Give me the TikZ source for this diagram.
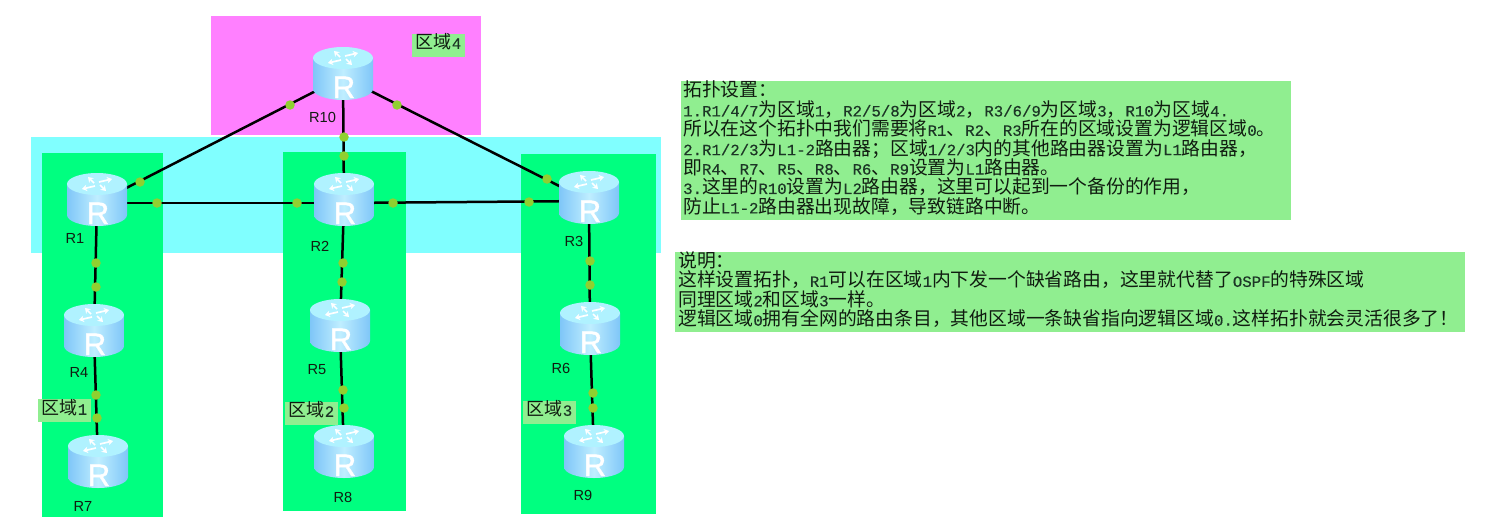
\documentclass[tikz,border=0pt]{standalone}
\usepackage{fontspec}
\setmainfont{Noto Sans CJK SC}
\newfontfamily\latfont[FakeBold=0.4]{Liberation Mono}
\newfontfamily\labfont{Liberation Sans}
\newfontfamily\rfont[FakeBold=1.2]{Liberation Sans}
\usetikzlibrary{arrows.meta}
\definecolor{numcol}{HTML}{1C3626}
\definecolor{txtcol}{HTML}{101C10}
\definecolor{areaM}{HTML}{FF80FF}
\definecolor{areaC}{HTML}{80FFFF}
\definecolor{areaG}{HTML}{00FF80}
\definecolor{noteG}{HTML}{90EE90}
\definecolor{dotG}{HTML}{90D030}
\definecolor{rTop}{HTML}{B0F2FF}
\definecolor{rEdge}{HTML}{7FC6F8}
\definecolor{rMid}{HTML}{BFEEFF}
\newcommand{\M}[1]{{\latfont\fontsize{15.7}{19.4}\selectfont\color{numcol}#1}}
\pgfdeclarelayer{links}
\pgfsetlayers{links,main}
\tikzset{
  x=1pt,y=-1pt,
  area/.style={draw=none,inner sep=0,outer sep=0,anchor=north west},
  notebox/.style={area,fill=noteG},
  routerbox/.style={draw=none,inner sep=0,minimum width=60,minimum height=53},
  rletter/.style={text=white,inner sep=0,text height=21,text depth=0,font=\rfont\fontsize{31}{31}\selectfont},
  rlabel/.style={text=txtcol,inner sep=0,font=\labfont\fontsize{14.6}{16}\selectfont},
  link/.style={draw=black,line width=2.5},
  dotmark/.style={circle,fill=dotG,draw=none,inner sep=0,minimum size=9.5},
  notetext/.style={anchor=north west,inner sep=0,align=left,text=txtcol,font=\fontsize{18.8}{19.4}\selectfont},
  arealabel/.style={area,fill=noteG,minimum width=53,minimum height=23},
  areatext/.style={inner sep=0,text=txtcol,font=\fontsize{18}{18}\selectfont},
  rarrow/.style={draw=white,line width=1.7,-{Stealth[length=5,width=6.5]}}
}
\newcommand{\router}[3]{%
  \node[routerbox] (#1) at (#2,#3) {};
  \begin{scope}[shift={(#1.center)}]
    \shade[left color=rEdge,right color=rEdge,middle color=rMid]
      (-30,-19) -- (30,-19) -- (30,12) .. controls (30,18) and (16.5,23) .. (0,23)
      .. controls (-16.5,23) and (-30,18) .. (-30,12) -- cycle;
    \fill[rTop] (-30,-19) .. controls (-30,-25) and (-16.5,-30) .. (0,-30)
      .. controls (16.5,-30) and (30,-25) .. (30,-19)
      .. controls (30,-13) and (16.5,-8) .. (0,-8)
      .. controls (-16.5,-8) and (-30,-13) .. (-30,-19) -- cycle;
    \draw[rarrow] (-3,-20) -- (-9,-26);
    \draw[rarrow] (2,-21) -- (15,-24);
    \draw[rarrow] (3,-18) -- (9,-12);
    \draw[rarrow] (-2,-17) -- (-15,-14);
    \node[rletter] (#1-R) at (1,10.5) {R};
  \end{scope}
}
\begin{document}
\begin{tikzpicture}
\useasboundingbox (0,0) rectangle (1485,522);
% areas (drawn on the lowest layer)
\begin{pgfonlayer}{links}
\node[area,fill=areaM,minimum width=270,minimum height=119] (aM) at (211,16) {};
\node[area,fill=areaC,minimum width=630,minimum height=116] (aC) at (31,137) {};
\node[area,fill=areaG,minimum width=121,minimum height=364] (aG1) at (42,153) {};
\node[area,fill=areaG,minimum width=123,minimum height=359] (aG2) at (283,152) {};
\node[area,fill=areaG,minimum width=135,minimum height=360] (aG3) at (521,154) {};
\end{pgfonlayer}
% routers
\router{R10}{343}{77}
\router{R1}{97}{203}
\router{R2}{344}{203}
\router{R3}{589}{201}
\router{R4}{94}{334}
\router{R5}{340}{329}
\router{R6}{590}{332}
\router{R7}{98}{465}
\router{R8}{344}{455}
\router{R9}{594}{455}
% connectors, under the router icons
\begin{pgfonlayer}{links}
\draw[link] (R10.center) -- (R1.center);
\draw[link] (R10.center) -- (R2.center);
\draw[link] (R10.center) -- (R3.center);
\draw[link] (R1.center) -- (R2.center);
\draw[link] (R2.center) -- (R3.center);
\draw[link] (R1.center) -- (R4.center);
\draw[link] (R4.center) -- (R7.center);
\draw[link] (R2.center) -- (R5.center);
\draw[link] (R5.center) -- (R8.center);
\draw[link] (R3.center) -- (R6.center);
\draw[link] (R6.center) -- (R9.center);
\end{pgfonlayer}
% port dots
\node[dotmark] (d1) at (290,105) {};
\node[dotmark] (d2) at (140,182) {};
\node[dotmark] (d3) at (344,137) {};
\node[dotmark] (d4) at (344,156) {};
\node[dotmark] (d5) at (397,105) {};
\node[dotmark] (d6) at (547,179) {};
\node[dotmark] (d7) at (157,203) {};
\node[dotmark] (d8) at (297,203) {};
\node[dotmark] (d9) at (393,203) {};
\node[dotmark] (d10) at (529,202) {};
\node[dotmark] (d11) at (96,263) {};
\node[dotmark] (d12) at (96,287) {};
\node[dotmark] (d13) at (96,395) {};
\node[dotmark] (d14) at (97,418) {};
\node[dotmark] (d15) at (343,263) {};
\node[dotmark] (d16) at (342,282) {};
\node[dotmark] (d17) at (343,390) {};
\node[dotmark] (d18) at (344,408) {};
\node[dotmark] (d19) at (590,261) {};
\node[dotmark] (d20) at (590,285) {};
\node[dotmark] (d21) at (593,393) {};
\node[dotmark] (d22) at (593,408) {};
% router labels
\node[rlabel] (lR1) at (75,238) {R1};
\node[rlabel] (lR2) at (320,246) {R2};
\node[rlabel] (lR3) at (574,241) {R3};
\node[rlabel] (lR4) at (79,372) {R4};
\node[rlabel] (lR5) at (317,370) {R5};
\node[rlabel] (lR6) at (561,368) {R6};
\node[rlabel] (lR7) at (83,506) {R7};
\node[rlabel] (lR8) at (343,497) {R8};
\node[rlabel] (lR9) at (583,495) {R9};
\node[rlabel] (lR10) at (322.5,117) {R10};
% area labels
\node[arealabel] (b1) at (38,399) {};
\node[arealabel] (b2) at (285,402) {};
\node[arealabel] (b3) at (523,401) {};
\node[arealabel] (b4) at (412,34) {};
\node[areatext] (t1) at (64.5,408) {区域\M{1}};
\node[areatext] (t2) at (311.5,410) {区域\M{2}};
\node[areatext] (t3) at (549.5,409) {区域\M{3}};
\node[areatext] (t4) at (438.5,42) {区域\M{4}};
% notes
\node[notebox,minimum width=610,minimum height=139] (n1) at (681,81) {};
\node[notebox,minimum width=790,minimum height=80] (n2) at (675,252) {};
\node[notetext] (n1t) at (683,81) {拓扑设置：\\
\M{1.R1/4/7}为区域\M{1}，\M{R2/5/8}为区域\M{2}，\M{R3/6/9}为区域\M{3}，\M{R10}为区域\M{4.}\\
所以在这个拓扑中我们需要将\M{R1}、\M{R2}、\M{R3}所在的区域设置为逻辑区域\M{0}。\\
\M{2.R1/2/3}为\M{L1-2}路由器；区域\M{1/2/3}内的其他路由器设置为\M{L1}路由器，\\
即\M{R4}、\M{R7}、\M{R5}、\M{R8}、\M{R6}、\M{R9}设置为\M{L1}路由器。\\
\M{3.}这里的\M{R10}设置为\M{L2}路由器，这里可以起到一个备份的作用，\\
防止\M{L1-2}路由器出现故障，导致链路中断。};
\node[notetext] (n2t) at (678,251.5) {说明：\\
这样设置拓扑，\M{R1}可以在区域\M{1}内下发一个缺省路由，这里就代替了\M{OSPF}的特殊区域\\
同理区域\M{2}和区域\M{3}一样。\\
逻辑区域\M{0}拥有全网的路由条目，其他区域一条缺省指向逻辑区域\M{0.}这样拓扑就会灵活很多了！};
\end{tikzpicture}
\end{document}
